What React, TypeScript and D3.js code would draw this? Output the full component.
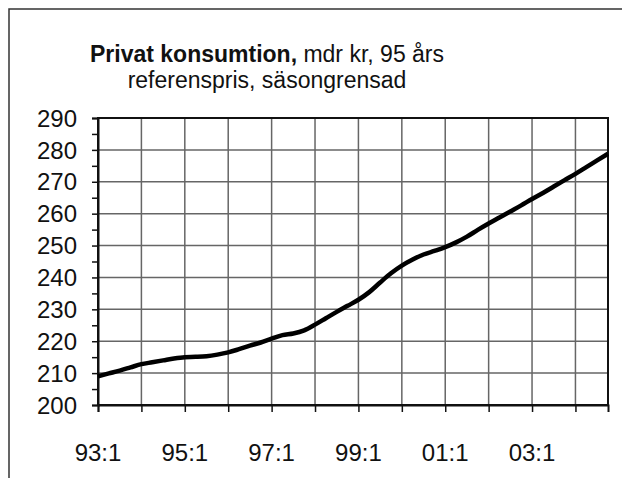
import { useRef, useEffect } from 'react';
import * as d3 from 'd3';

// Quarterly data 93:1 .. 04:4, mdr kr
const years = ['93', '94', '95', '96', '97', '98', '99', '00', '01', '02', '03', '04'];
const consumption = [
  209.0, 209.9, 210.8, 211.8,
  212.8, 213.4, 214.0, 214.6,
  215.0, 215.1, 215.3, 215.8,
  216.5, 217.5, 218.6, 219.6,
  220.8, 221.9, 222.4, 223.4,
  225.2, 227.2, 229.2, 231.1,
  233.0, 235.4, 238.4, 241.3,
  243.7, 245.6, 247.2, 248.3,
  249.5, 251.0, 252.8, 254.9,
  256.9, 258.8, 260.7, 262.6,
  264.6, 266.5, 268.5, 270.5,
  272.5, 274.6, 276.7, 278.8,
];
const quarters = years.flatMap((y) => [1, 2, 3, 4].map((q) => `${y}:${q}`));
const xLabels = ['93:1', '95:1', '97:1', '99:1', '01:1', '03:1'];
const yTicks = [200, 210, 220, 230, 240, 250, 260, 270, 280, 290];

const W = 622;
const H = 478;

export default function App() {
  const svgRef = useRef<SVGSVGElement>(null);

  useEffect(() => {
    if (!svgRef.current) return;
    const svg = d3.select(svgRef.current);
    svg.selectAll('*').remove();

    const margin = { top: 118, right: 14, bottom: 73, left: 98 };
    const innerWidth = W - margin.left - margin.right;
    const innerHeight = H - margin.top - margin.bottom;
    const font = 'Arial, "Liberation Sans", sans-serif';

    svg.append('rect').attr('width', W).attr('height', H).attr('fill', '#fff');

    // outer frame (only top and left visible)
    svg.append('path')
      .attr('d', `M9,${H} V9 H${W}`)
      .attr('fill', 'none')
      .attr('stroke', '#333')
      .attr('stroke-width', 1.5);

    // Title
    const title = svg.append('text')
      .attr('x', 267)
      .attr('y', 62)
      .attr('text-anchor', 'middle')
      .attr('font-family', font)
      .attr('font-size', 23)
      .attr('fill', '#111');
    title.append('tspan').attr('font-weight', 'bold').text('Privat konsumtion,');
    title.append('tspan').text(' mdr kr, 95 års');
    svg.append('text')
      .attr('x', 267)
      .attr('y', 88)
      .attr('text-anchor', 'middle')
      .attr('font-family', font)
      .attr('font-size', 23)
      .attr('fill', '#111')
      .text('referenspris, säsongrensad');

    const g = svg.append('g').attr('transform', `translate(${margin.left},${margin.top})`);

    const xScale = d3.scalePoint<string>().domain(quarters).range([0, innerWidth]);
    const yScale = d3.scaleLinear().domain([200, 290]).range([innerHeight, 0]);

    const q1 = quarters.filter((q) => q.endsWith(':1'));

    // Grid
    g.append('g')
      .selectAll('line')
      .data(yTicks)
      .join('line')
      .attr('x1', 0)
      .attr('x2', innerWidth)
      .attr('y1', (d) => yScale(d))
      .attr('y2', (d) => yScale(d))
      .attr('stroke', '#666')
      .attr('stroke-width', 1.5);
    g.append('g')
      .selectAll('line')
      .data(q1)
      .join('line')
      .attr('x1', (d) => xScale(d)!)
      .attr('x2', (d) => xScale(d)!)
      .attr('y1', 0)
      .attr('y2', innerHeight)
      .attr('stroke', '#666')
      .attr('stroke-width', 1.5);

    // Plot border
    g.append('rect')
      .attr('width', innerWidth)
      .attr('height', innerHeight)
      .attr('fill', 'none')
      .attr('stroke', '#111')
      .attr('stroke-width', 2);

    // Y axis with minor ticks every 5
    const yAxis = g.append('g').call(
      d3.axisLeft(yScale).tickValues(d3.range(200, 291, 5)).tickSize(6).tickFormat(() => '')
    );
    yAxis.select('.domain').attr('stroke', '#111').attr('stroke-width', 2);
    yAxis.selectAll('line').attr('stroke', '#111').attr('stroke-width', 1.5);

    g.append('g')
      .selectAll('text')
      .data(yTicks)
      .join('text')
      .attr('x', -21)
      .attr('y', (d) => yScale(d))
      .attr('dy', '0.36em')
      .attr('text-anchor', 'end')
      .attr('font-family', font)
      .attr('font-size', 24)
      .attr('fill', '#111')
      .text((d) => d);

    // X axis
    const xAxis = g.append('g')
      .attr('transform', `translate(0,${innerHeight})`)
      .call(d3.axisBottom(xScale).tickValues(q1).tickSize(7).tickFormat(() => ''));
    xAxis.select('.domain').attr('stroke', '#111').attr('stroke-width', 2);
    xAxis.selectAll('line').attr('stroke', '#111').attr('stroke-width', 1.5);

    g.append('g')
      .selectAll('text')
      .data(xLabels)
      .join('text')
      .attr('x', (d) => xScale(d)!)
      .attr('y', innerHeight + 56)
      .attr('text-anchor', 'middle')
      .attr('font-family', font)
      .attr('font-size', 24)
      .attr('fill', '#111')
      .text((d) => d);

    // Line
    const line = d3
      .line<number>()
      .x((_, i) => xScale(quarters[i])!)
      .y((d) => yScale(d))
      .curve(d3.curveMonotoneX);

    g.append('path')
      .datum(consumption)
      .attr('fill', 'none')
      .attr('stroke', '#000')
      .attr('stroke-width', 4.5)
      .attr('stroke-linejoin', 'round')
      .attr('d', line);
  }, []);

  return (
    <svg
      ref={svgRef}
      width={W}
      height={H}
      style={{ position: 'absolute', left: 0, top: 0, display: 'block' }}
    />
  );
}
